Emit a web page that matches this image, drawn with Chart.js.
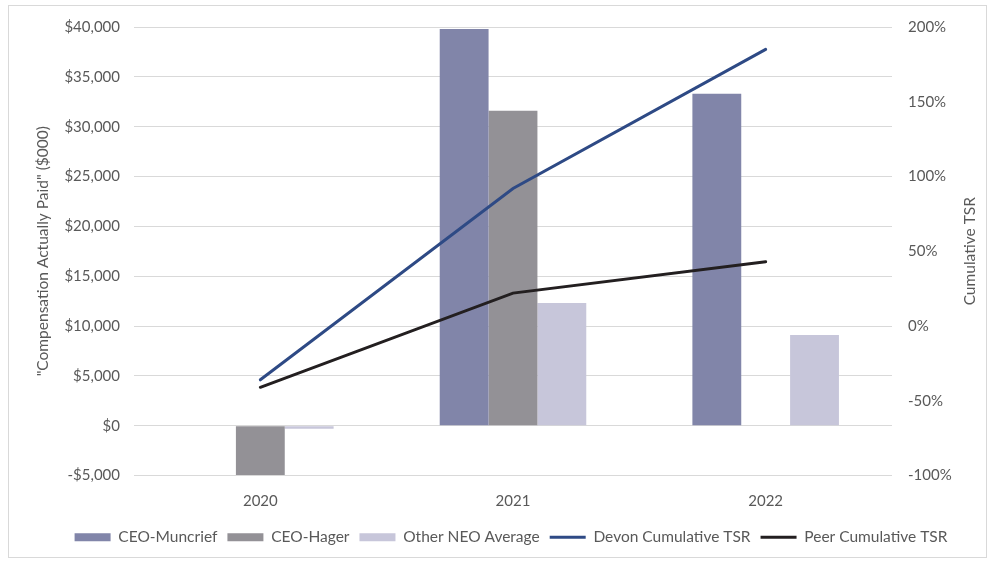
<!DOCTYPE html>
<html>
<head>
<meta charset="utf-8">
<script src="https://cdn.jsdelivr.net/npm/chart.js@4.4.0/dist/chart.umd.min.js"></script>
<style>
  body { margin: 0; background: #fff; }
  #wrap { position: relative; width: 992px; height: 563px; }
  #frame { position: absolute; left: 8px; top: 5px; width: 979px; height: 553px; border: 1px solid #d9d9d9; box-sizing: border-box; pointer-events: none; }
  canvas { position: absolute; left: 0; top: 0; }
</style>
</head>
<body>
<div id="wrap">
  <canvas id="myChart" width="992" height="563"></canvas>
  <div id="frame"></div>
</div>
<script>
// data
const years = ['2020', '2021', '2022'];
const ceoMuncrief = [null, 39800, 33300];
const ceoHager = [-4950, 31600, null];
const otherNeo = [-300, 12300, 9100];
const devonTsr = [-36, 92, 185];
const peerTsr = [-41, 22, 43];

const textColor = '#595959';
const fontName = 'Lato, "Liberation Sans", sans-serif';

// right axis title reads bottom-to-top, so draw it by hand
// also nudge the legend a bit to the right like in the original
const extras = {
  id: 'extras',
  afterLayout(chart) {
    chart.legend.left += 15;
    chart.legend.right += 15;
  },
  afterDraw(chart) {
    const s = chart.scales.y1;
    const ctx = chart.ctx;
    ctx.save();
    ctx.translate(970, (s.top + s.bottom) / 2);
    ctx.rotate(-Math.PI / 2);
    ctx.fillStyle = textColor;
    ctx.font = '15.5px ' + fontName;
    ctx.textAlign = 'center';
    ctx.textBaseline = 'middle';
    ctx.fillText('Cumulative TSR', 0, 0);
    ctx.restore();
  }
};

function money(v) {
  let s = '$' + Math.abs(v).toLocaleString('en-US');
  return v < 0 ? '-' + s : s;
}

const ctx = document.getElementById('myChart');

new Chart(ctx, {
  type: 'bar',
  data: {
    labels: years,
    datasets: [
      { label: 'CEO-Muncrief', data: ceoMuncrief, backgroundColor: '#8185a9', yAxisID: 'y', pointStyle: 'rect' },
      { label: 'CEO-Hager', data: ceoHager, backgroundColor: '#939196', yAxisID: 'y', pointStyle: 'rect' },
      { label: 'Other NEO Average', data: otherNeo, backgroundColor: '#c7c6da', yAxisID: 'y', pointStyle: 'rect' },
      { type: 'line', label: 'Devon Cumulative TSR', data: devonTsr, borderColor: '#2e4a85', backgroundColor: '#2e4a85',
        borderWidth: 3, pointRadius: 0, yAxisID: 'y1', pointStyle: 'line', order: -1, borderCapStyle: 'round' },
      { type: 'line', label: 'Peer Cumulative TSR', data: peerTsr, borderColor: '#231f20', backgroundColor: '#231f20',
        borderWidth: 3, pointRadius: 0, yAxisID: 'y1', pointStyle: 'line', order: -1, borderCapStyle: 'round' }
    ]
  },
  options: {
    responsive: false,
    animation: false,
    datasets: { bar: { categoryPercentage: 0.58, barPercentage: 1 } },
    layout: { padding: { top: 27, left: 30, right: 30, bottom: 8 } },
    plugins: {
      tooltip: { enabled: false },
      legend: {
        position: 'bottom',
        labels: {
          usePointStyle: true,
          pointStyleWidth: 36,
          boxHeight: 8,
          color: textColor,
          font: { family: fontName, size: 15.5 },
          padding: 10,
          sort: (a, b) => a.datasetIndex - b.datasetIndex
        }
      }
    },
    scales: {
      x: {
        grid: { display: false },
        border: { display: false },
        ticks: { color: textColor, font: { family: fontName, size: 15 }, padding: 9 }
      },
      y: {
        position: 'left',
        min: -5000,
        max: 40000,
        ticks: { stepSize: 5000, color: textColor, font: { family: fontName, size: 15 }, padding: 14, callback: v => money(v) },
        grid: { color: '#d9d9d9', drawTicks: false },
        border: { display: false },
        title: { display: true, text: '"Compensation Actually Paid" ($000)', color: textColor, font: { family: fontName, size: 15.5 } },
        afterFit: s => { s.width = 104; }
      },
      y1: {
        position: 'right',
        min: -100,
        max: 200,
        ticks: { stepSize: 50, color: textColor, font: { family: fontName, size: 15 }, padding: 16, callback: v => v + '%' },
        grid: { display: false, drawTicks: false },
        border: { display: false },
        afterFit: s => { s.width = 70; }
      }
    }
  },
  plugins: [extras]
});
</script>
</body>
</html>
